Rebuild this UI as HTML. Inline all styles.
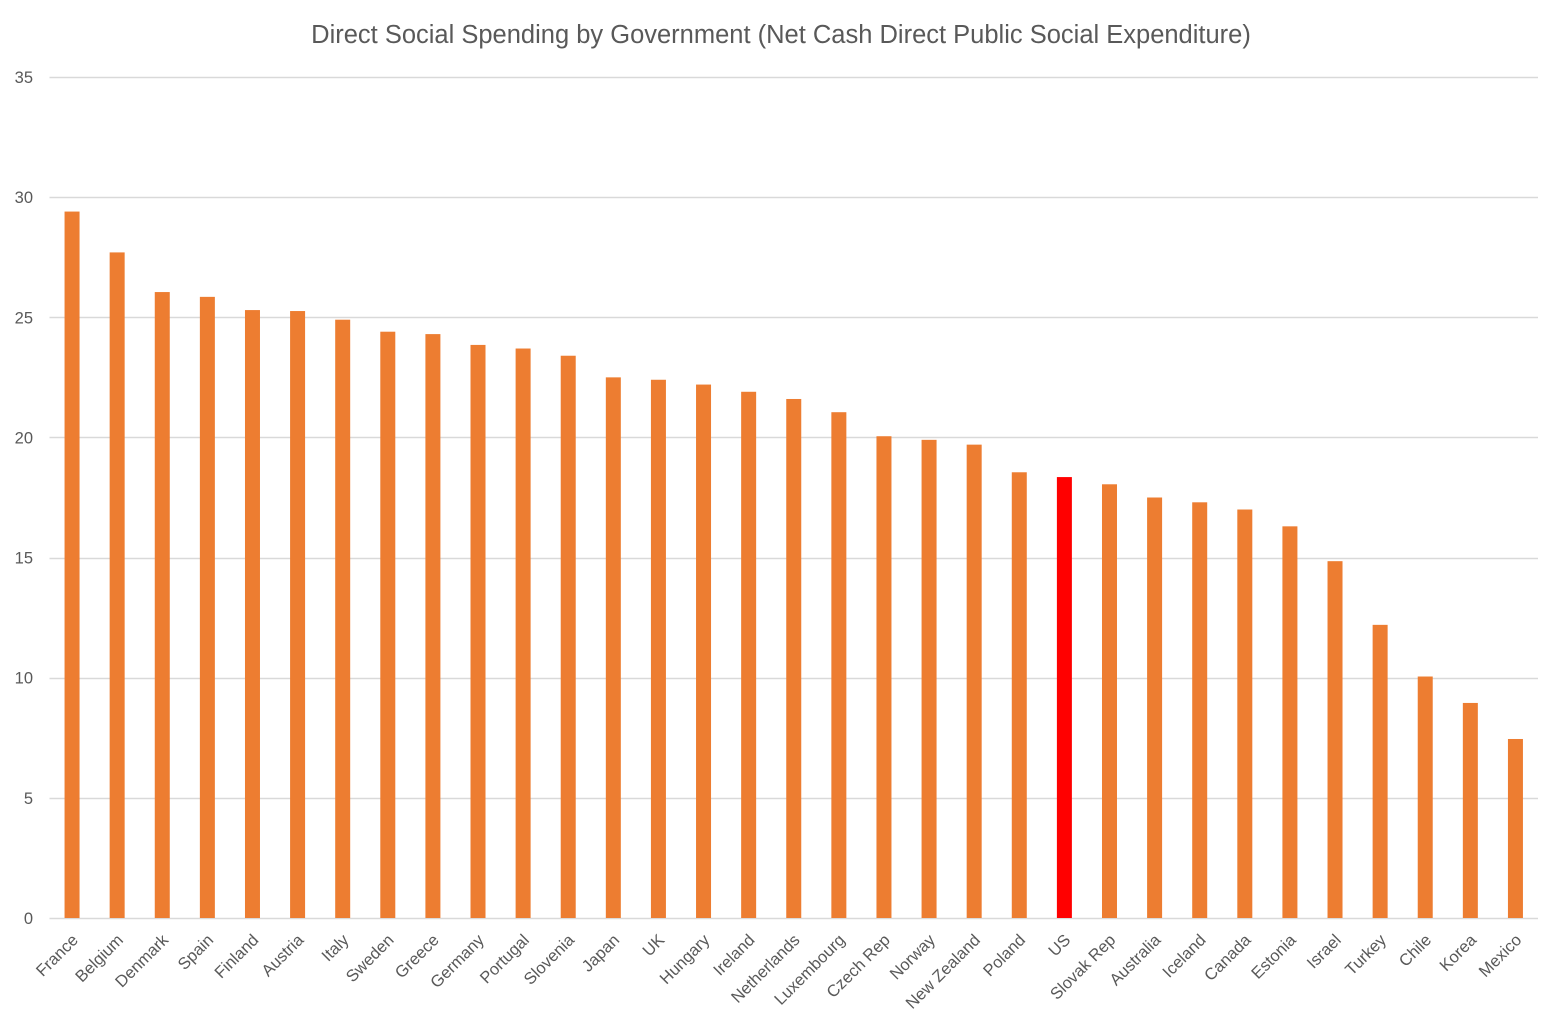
<!DOCTYPE html>
<html>
<head>
<meta charset="utf-8">
<style>
  html,body{margin:0;padding:0;background:#fff;}
  svg{display:block;font-family:"Liberation Sans",Calibri,sans-serif;}
</style>
</head>
<body>
<svg id="chart" width="1562" height="1031" viewBox="0 0 1562 1031">
  <text x="781" y="43" text-anchor="middle" font-size="25.5" fill="#595959">Direct Social Spending by Government (Net Cash Direct Public Social Expenditure)</text>
  <g id="grid"></g>
  <g id="bars"></g>
  <g id="xlabels"></g>
</svg>
<script>
const categories = ["France","Belgium","Denmark","Spain","Finland","Austria","Italy","Sweden","Greece","Germany","Portugal","Slovenia","Japan","UK","Hungary","Ireland","Netherlands","Luxembourg","Czech Rep","Norway","New Zealand","Poland","US","Slovak Rep","Australia","Iceland","Canada","Estonia","Israel","Turkey","Chile","Korea","Mexico"];
const values = [29.4,27.7,26.05,25.85,25.3,25.26,24.9,24.4,24.3,23.85,23.7,23.4,22.5,22.4,22.2,21.9,21.6,21.05,20.05,19.9,19.7,18.55,18.35,18.05,17.5,17.3,17.0,16.3,14.85,12.2,10.05,8.95,7.45];
const highlight = ["US"];
const yTicks = [0,5,10,15,20,25,30,35];

const NS = "http://www.w3.org/2000/svg";
const plotL = 49.5, plotR = 1538, y0 = 918, yTop = 77, yMax = 35;
const yScale = v => y0 - (v / yMax) * (y0 - yTop);
const band = (plotR - plotL) / categories.length;
const xCenter = i => plotL + band * (i + 0.5);
const barW = 15;

const grid = document.getElementById('grid');
yTicks.forEach(t => {
  const y = Math.round(yScale(t)) + 0.5;
  const ln = document.createElementNS(NS, 'line');
  ln.setAttribute('x1', plotL); ln.setAttribute('x2', plotR);
  ln.setAttribute('y1', y); ln.setAttribute('y2', y);
  ln.setAttribute('stroke', '#D9D9D9'); ln.setAttribute('stroke-width', '1.5');
  
  
  grid.appendChild(ln);
  const tx = document.createElementNS(NS, 'text');
  tx.setAttribute('x', 33); tx.setAttribute('y', yScale(t) + 6);
  tx.setAttribute('text-anchor', 'end'); tx.setAttribute('font-size', '16.5');
  tx.setAttribute('fill', '#595959');
  tx.textContent = t;
  
  
  grid.appendChild(tx);
});

const bars = document.getElementById('bars');
const xl = document.getElementById('xlabels');
categories.forEach((c, i) => {
  const v = values[i];
  const r = document.createElementNS(NS, 'rect');
  r.setAttribute('x', xCenter(i) - barW / 2);
  r.setAttribute('y', yScale(v));
  r.setAttribute('width', barW);
  r.setAttribute('height', y0 - yScale(v));
  r.setAttribute('fill', highlight.includes(c) ? '#FF0000' : '#ED7D31');
  
  
  bars.appendChild(r);
  const t = document.createElementNS(NS, 'text');
  const lx = xCenter(i) + 7, ly = 941;
  t.setAttribute('x', lx); t.setAttribute('y', ly);
  t.setAttribute('text-anchor', 'end'); t.setAttribute('font-size', '16.5');
  t.setAttribute('fill', '#595959');
  t.setAttribute('transform', `rotate(-45 ${lx} ${ly})`);
  t.textContent = c;
  
  
  xl.appendChild(t);
});
</script>
</body>
</html>
